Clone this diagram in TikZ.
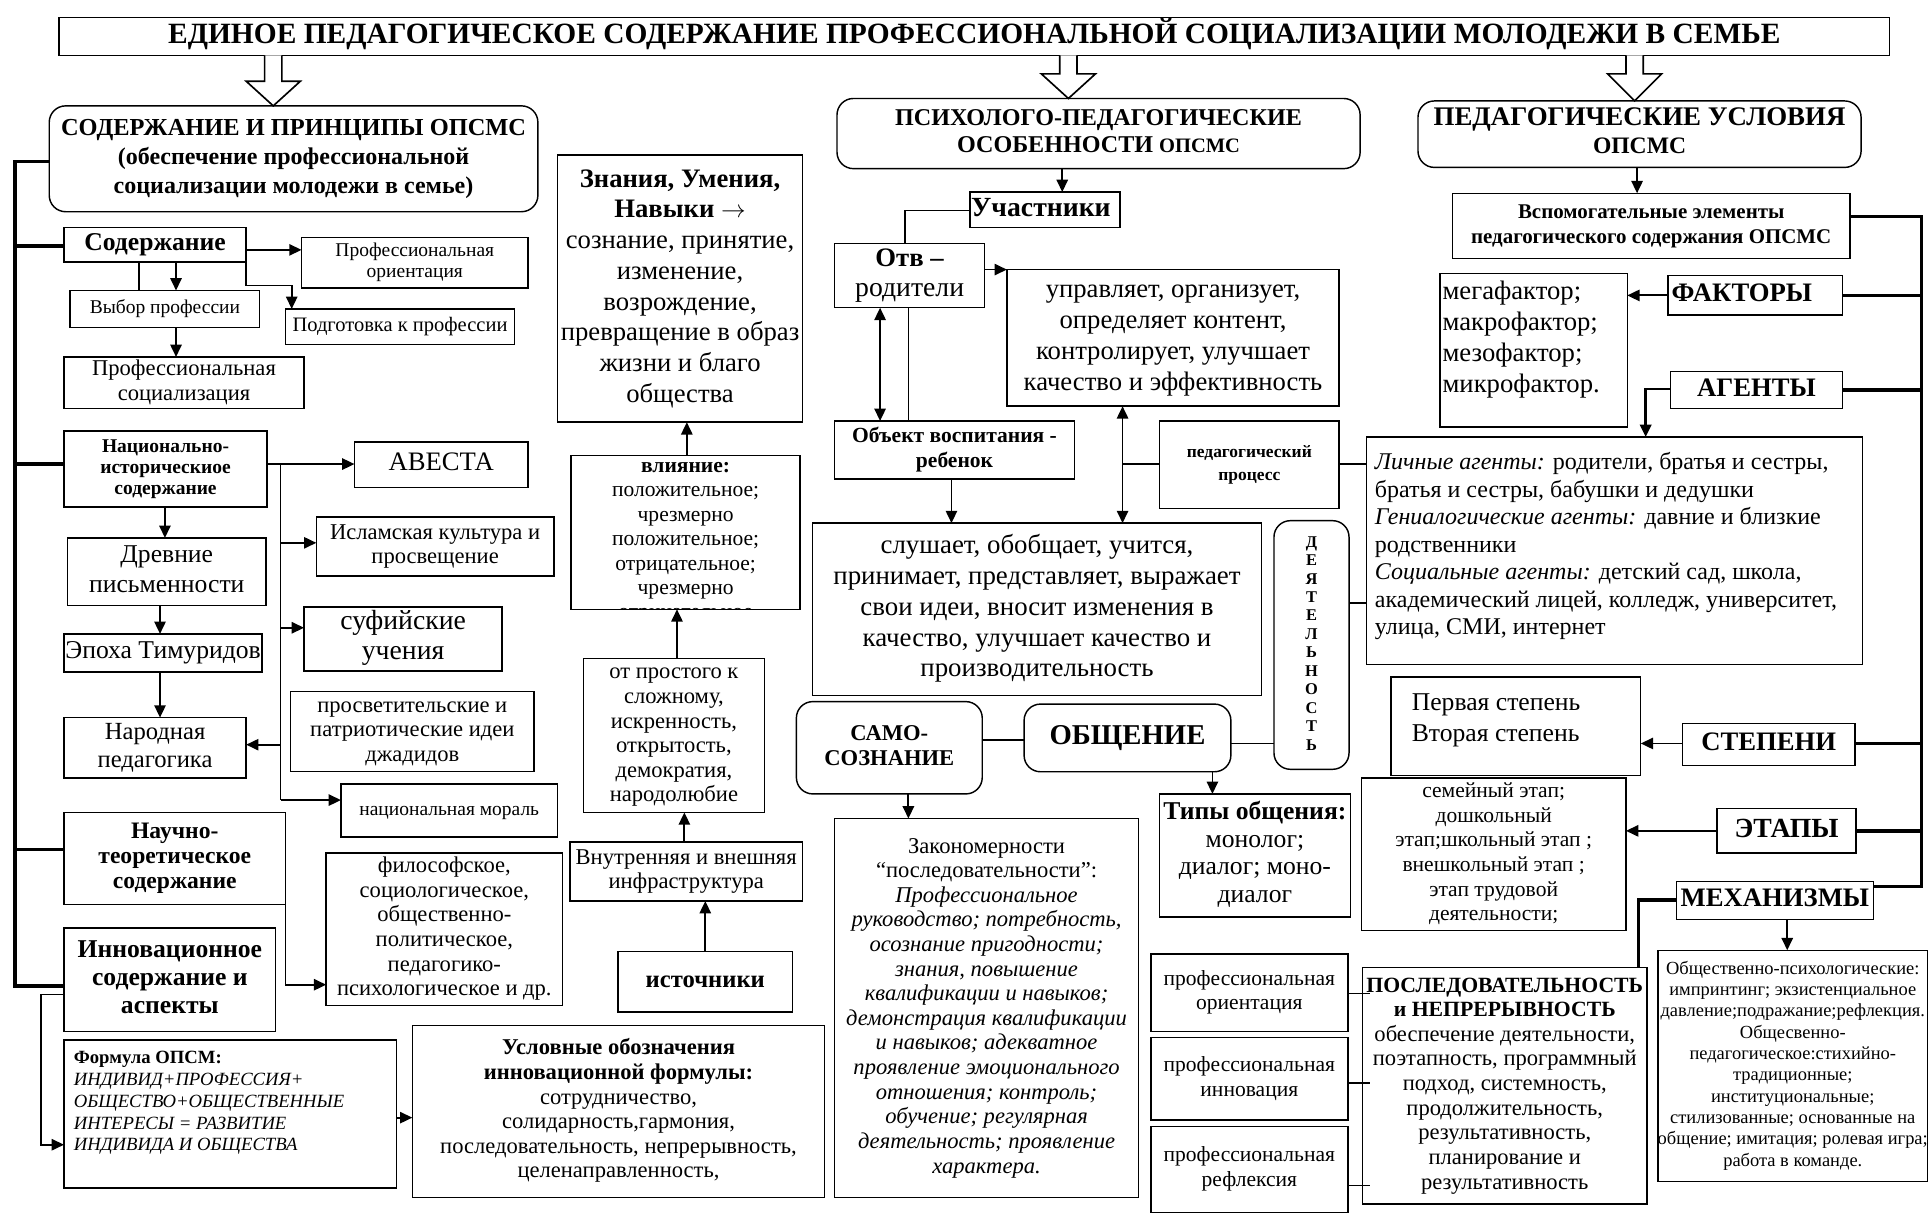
\documentclass[tikz,border=0pt]{standalone}
\usepackage{fontspec}
\setmainfont{Liberation Serif}
\usetikzlibrary{arrows.meta}

\newcommand\fs[2]{\fontsize{#1}{#2}\selectfont}
% box from its corners: [vpos]{style}{name}{x1}{y1}{x2}{y2}{font}{lines}
\newcommand\bx[9][c]{%
  \pgfmathsetmacro\bw{(#6-#4)*0.6}%
  \pgfmathsetmacro\bh{(#7-#5)*0.6}%
  \node[box,#2] (#3) at (#4,#5)
    {\begin{minipage}[b][\bh pt][#1]{\bw pt}#8%
     \makebox[\linewidth]{\begin{tabular}{@{}c@{}}#9\end{tabular}}\end{minipage}};}
% left aligned box: [top pad]{name}{x1}{y1}{x2}{y2}{left pad}{font}{lines}
\newcommand\lbx[9][0]{%
  \pgfmathsetmacro\bw{(#5-#3)*0.6}%
  \pgfmathsetmacro\bh{(#6-#4)*0.6}%
  \pgfmathsetmacro\tp{#1*0.6}%
  \pgfmathsetmacro\lp{#7*0.6}%
  \node[box] (#2) at (#3,#4)
    {\begin{minipage}[b][\bh pt][t]{\bw pt}#8\vspace*{\tp pt}%
     \hspace*{\lp pt}\begin{tabular}[t]{@{}l@{}}#9\end{tabular}\end{minipage}};}

\begin{document}
\begin{tikzpicture}[x=0.6pt,y=-0.6pt,
    box/.style={draw, line width=0.7pt, inner sep=0pt, outer sep=0pt, anchor=north west},
    rnd/.style={rounded corners=8pt},
    ln/.style={line width=0.8pt},
    arr/.style={line width=0.9pt, -{Triangle[length=6pt,width=5.5pt]}},
    darr/.style={line width=0.9pt, {Triangle[length=6pt,width=5.5pt]}-{Triangle[length=6pt,width=5.5pt]}},
    bus/.style={line width=1.7pt},
    hollow/.style={line width=0.8pt, fill=white}]
\fill[white] (0,0) rectangle (1568,986);
\useasboundingbox (0,0) rectangle (1568,986);

% Headers
\bx{}{title}{48}{14}{1535}{45}{\fs{14.35}{16}\bfseries}{ЕДИНОЕ ПЕДАГОГИЧЕСКОЕ СОДЕРЖАНИЕ ПРОФЕССИОНАЛЬНОЙ СОЦИАЛИЗАЦИИ МОЛОДЕЖИ В СЕМЬЕ}
\bx{rnd}{hdrL}{40}{86}{437}{172}{\fs{11.7}{14}\bfseries}{{\fs{11.9}{14}СОДЕРЖАНИЕ И ПРИНЦИПЫ ОПСМС}\\(обеспечение профессиональной\\социализации молодежи в семье)}
\bx{rnd}{hdrM}{680}{80}{1105}{137}{\fs{11.75}{13.2}\bfseries}{ПСИХОЛОГО-ПЕДАГОГИЧЕСКИЕ\\ОСОБЕННОСТИ {\fs{10}{12}ОПСМС}}
\bx{rnd}{hdrR}{1152}{82}{1512}{136}{\fs{13.1}{13.8}\bfseries}{ПЕДАГОГИЧЕСКИЕ УСЛОВИЯ\\{\fs{11.5}{13}ОПСМС}}
\foreach \cx/\sy/\ty in {222/66/86, 868/60/80, 1328/60/82}
  \draw[hollow] ({\cx-7},45) -- ({\cx-7},\sy) -- ({\cx-22},\sy) -- (\cx,\ty)
    -- ({\cx+22},\sy) -- ({\cx+7},\sy) -- ({\cx+7},45);

% Left column
\bx{}{sod}{52}{185}{200}{213}{\fs{12.5}{14}\bfseries}{Содержание}
\bx{}{prof}{245}{193}{429}{234}{\fs{9.5}{10.5}}{Профессиональная\\ориентация}
\bx{}{vybor}{57}{236}{211}{266}{\fs{9.5}{11}}{Выбор профессии}
\bx{}{podg}{232}{251}{418}{280}{\fs{10}{11}}{Подготовка к профессии}
\bx{}{profsoc}{52}{290}{247}{332}{\fs{11}{12}}{Профессиональная\\социализация}
\bx{}{nat}{52}{350}{217}{412}{\fs{9.5}{10.2}\bfseries}{Национально-\\историческиое\\содержание}
\bx{}{avesta}{288}{359}{429}{396}{\fs{13}{15}}{АВЕСТА}
\bx{}{drev}{55}{437}{216}{492}{\fs{12.5}{14.4}}{Древние\\письменности}
\bx{}{islam}{257}{420}{450}{468}{\fs{11}{12}}{Исламская культура и\\просвещение}
\bx{}{epoha}{52}{515}{213}{546}{\fs{12.5}{14}}{Эпоха Тимуридов}
\bx{}{sufi}{247}{493}{408}{545}{\fs{13.5}{14.4}}{суфийские\\учения}
\bx{}{jadid}{236}{562}{434}{627}{\fs{11}{12}}{просветительские и\\патриотические идеи\\джадидов}
\bx{}{narod}{52}{583}{200}{632}{\fs{12}{13.8}}{Народная\\педагогика}
\bx{}{moral}{277}{637}{453}{680}{\fs{9.5}{11}}{национальная мораль}
\bx{}{nauch}{52}{660}{232}{735}{\fs{11.5}{12}\bfseries}{Научно-\\теоретическое\\содержание}
\bx{}{filos}{265}{693}{457}{817}{\fs{11}{12}}{философское,\\социологическое,\\общественно-\\политическое,\\педагогико-\\психологическое и др.}
\bx{}{innov}{52}{754}{224}{838}{\fs{12.5}{13.8}\bfseries}{Инновационное\\содержание и\\аспекты}
\lbx[7]{formula}{52}{845}{322}{965}{8}{\fs{9.1}{10.6}}{\textbf{Формула ОПСМ:}\\\textit{ИНДИВИД+ПРОФЕССИЯ+}\\\textit{ОБЩЕСТВО+ОБЩЕСТВЕННЫЕ}\\\textit{ИНТЕРЕСЫ = РАЗВИТИЕ}\\\textit{ИНДИВИДА И ОБЩЕСТВА}}
\bx{}{uslov}{335}{833}{670}{973}{\fs{11}{12}}{\textbf{Условные обозначения}\\\textbf{инновационной формулы:}\\сотрудничество,\\солидарность,гармония,\\последовательность, непрерывность,\\целенаправленность,}

% Middle column
\bx{}{znan}{453}{126}{652}{343}{\fs{13}{15}}{\textbf{Знания, Умения,}\\\textbf{Навыки $\rightarrow$}\\сознание, принятие,\\изменение,\\возрождение,\\превращение в образ\\жизни и благо\\общества}
\begin{scope}
  \clip (464,370) rectangle (650,495);
  \bx[t]{draw=none}{vliytxt}{464}{370}{650}{495}{\fs{10.5}{11.9}}{\textbf{влияние:}\\положительное;\\чрезмерно\\положительное;\\отрицательное;\\чрезмерно\\отрицательное}
\end{scope}
\bx{}{vliy}{464}{370}{650}{495}{}{}
\bx{}{prost}{474}{535}{621}{660}{\fs{11}{12}}{от простого к\\сложному,\\искренность,\\открытость,\\демократия,\\народолюбие}
\bx{}{infra}{463}{684}{652}{732}{\fs{11}{12}}{Внутренняя и внешняя\\инфраструктура}
\bx{}{istoch}{502}{773}{644}{822}{\fs{12}{14}\bfseries}{источники}

% Center
\bx{}{uch}{788}{156}{910}{185}{\fs{13.5}{15}\bfseries}{Участники\hspace*{4pt}}
\bx{}{otv}{678}{198}{800}{250}{\fs{13}{14.4}}{\textbf{Отв –}\\{\fs{13.5}{14.4}родители}}
\bx{}{upr}{818}{219}{1088}{330}{\fs{13}{15}}{управляет, организует,\\определяет контент,\\контролирует, улучшает\\качество и эффективность}
\bx{}{obj}{678}{342}{873}{389}{\fs{10.5}{12.6}\bfseries}{Объект воспитания -\\ребенок}
\bx{}{pedpr}{942}{342}{1088}{413}{\fs{8.5}{11}\bfseries}{педагогический\\процесс}
\bx{}{slush}{660}{425}{1025}{565}{\fs{13.1}{15}}{слушает, обобщает, учится,\\принимает, представляет, выражает\\свои идеи, вносит изменения в\\качество, улучшает качество и\\производительность}
\bx{rnd}{deyat}{1035}{423}{1096}{625}{\fs{8}{9}\bfseries}{Д\\Е\\Я\\Т\\Е\\Л\\Ь\\Н\\О\\С\\Т\\Ь}
\bx{rnd}{samo}{647}{570}{798}{645}{\fs{11}{12.6}\bfseries}{САМО-\\СОЗНАНИЕ}
\bx{rnd}{obsh}{832}{572}{1000}{627}{\fs{14}{16}\bfseries}{ОБЩЕНИЕ}
\bx{}{tipy}{942}{645}{1097}{745}{\fs{12.5}{13.4}}{\textbf{Типы общения:}\\монолог;\\диалог; моно-\\диалог}
\bx{}{zakon}{678}{665}{925}{973}{\fs{11}{12}}{Закономерности\\“последовательности”:\\\textit{Профессиональное}\\\textit{руководство; потребность,}\\\textit{осознание пригодности;}\\\textit{знания, повышение}\\\textit{квалификации и навыков;}\\\textit{демонстрация квалификации}\\\textit{и навыков; адекватное}\\\textit{проявление эмоционального}\\\textit{отношения; контроль;}\\\textit{обучение; регулярная}\\\textit{деятельность; проявление}\\\textit{характера.}}
\bx{}{po2}{935}{775}{1095}{838}{\fs{10.5}{12}}{профессиональная\\ориентация}
\bx{}{pi2}{935}{843}{1095}{910}{\fs{10.5}{12}}{профессиональная\\инновация}
\bx{}{pr2}{935}{915}{1095}{985}{\fs{10.5}{12}}{профессиональная\\рефлексия}
\bx{}{posl}{1107}{786}{1338}{978}{\fs{11}{12}}{\textbf{\fs{10.6}{12}ПОСЛЕДОВАТЕЛЬНОСТЬ}\\\textbf{\fs{10.6}{12}и НЕПРЕРЫВНОСТЬ}\\обеспечение деятельности,\\поэтапность, программный\\подход, системность,\\продолжительность,\\результативность,\\планирование и\\результативность}

% Right column
\bx{}{vspom}{1180}{157}{1503}{210}{\fs{10.2}{12}\bfseries}{Вспомогательные элементы\\педагогического содержания ОПСМС}
\bx{}{fakt}{1355}{224}{1497}{256}{\fs{13}{15}\bfseries}{ФАКТОРЫ\hspace*{13pt}}
\lbx[4]{mega}{1170}{222}{1322}{347}{2}{\fs{13}{15}}{мегафактор;\\макрофактор;\\мезофактор;\\микрофактор.}
\bx{}{agent}{1357}{302}{1497}{332}{\fs{13}{15}\bfseries}{АГЕНТЫ}
\lbx[11]{lich}{1110}{355}{1513}{540}{7}{\fs{11.7}{13.4}}{\textit{Личные агенты:} родители, братья и сестры,\\братья и сестры, бабушки и дедушки\\\textit{Гениалогические агенты:} давние и близкие\\родственники\\\textit{Социальные агенты:} детский сад, школа,\\академический лицей, колледж, университет,\\улица, СМИ, интернет}
\lbx[10]{step}{1130}{550}{1333}{630}{17}{\fs{12.5}{15}}{Первая степень\\Вторая степень}
\bx{}{stepeni}{1367}{588}{1507}{622}{\fs{13}{15}\bfseries}{СТЕПЕНИ}
\bx{}{etapb}{1106}{632}{1321}{756}{\fs{10.5}{12}}{семейный этап;\\дошкольный\\этап;школьный этап ;\\внешкольный этап ;\\этап трудовой\\деятельности;}
\bx{}{etapy}{1395}{657}{1508}{693}{\fs{13.5}{15}\bfseries}{ЭТАПЫ}
\bx{}{mehan}{1362}{716}{1522}{747}{\fs{13}{15}\bfseries}{МЕХАНИЗМЫ}
\bx{}{mechb}{1347}{772}{1566}{960}{\fs{9}{10.4}}{Общественно-психологические:\\импринтинг; экзистенциальное\\давление;подражание;рефлекция.\\Общесвенно-\\педагогическое:стихийно-\\традиционные;\\институциональные;\\стилизованные; основанные на\\общение; имитация; ролевая игра;\\работа в команде.}

% Arrows: left column
\coordinate (lbus) at (12,131);
\draw[bus] (hdrL.west |- lbus) -- (lbus) -- (12,801) -- (innov.west |- 0,801);
\foreach \y/\n in {200/sod, 377/nat, 690/nauch}
  \draw[bus] (lbus |- 0,\y) -- (\n.west |- 0,\y);
\draw[arr] (sod.east |- 0,203) -- (prof.west |- 0,203);
\draw[ln] (sod.south -| 113,0) -- (vybor.north -| 113,0);
\draw[arr] (sod.south -| 143,0) -- (vybor.north -| 143,0);
\draw[arr] (sod.south east) -- (200,232) -| (podg.north -| 237,0);
\draw[arr] (vybor.south -| 143,0) -- (profsoc.north -| 143,0);
\draw[arr] (nat.east |- 0,377) -- (avesta.west |- 0,377);
\coordinate (nbus) at (228,377);
\draw[ln] (nbus) -- (228,650);
\draw[arr] (nbus |- 0,441) -- (islam.west |- 0,441);
\draw[arr] (nbus |- 0,510) -- (sufi.west |- 0,510);
\draw[arr] (nbus |- 0,605) -- (narod.east |- 0,605);
\draw[arr] (nbus |- 0,650) -- (moral.west |- 0,650);
\draw[arr] (nat.south -| 134,0) -- (drev.north -| 134,0);
\draw[arr] (drev.south -| 130,0) -- (epoha.north -| 130,0);
\draw[arr] (epoha.south -| 130,0) -- (narod.north -| 130,0);
\draw[arr] (nauch.south east) |- (filos.west |- 0,800);
\draw[arr] (innov.west |- 0,808) -- (33,808) |- (formula.west |- 0,930);
\draw[arr] (formula.east |- 0,908) -- (uslov.west |- 0,908);

% Arrows: middle column
\draw[arr] (vliy.north -| 558,0) -- (znan.south -| 558,0);
\draw[arr] (prost.north -| 550,0) -- (vliy.south -| 550,0);
\draw[arr] (infra.north -| 556,0) -- (prost.south -| 556,0);
\draw[arr] (istoch.north -| 573,0) -- (infra.south -| 573,0);

% Arrows: center
\draw[arr] (hdrM.south -| 863,0) -- (uch.north -| 863,0);
\draw[ln] (uch.west |- 0,171) -- (735,171) -- (otv.north -| 735,0);
\draw[arr] (otv.east |- 0,219) -- (upr.west |- 0,219);
\draw[darr] (otv.south -| 715,0) -- (obj.north -| 715,0);
\draw[ln] (otv.south -| 738,0) -- (obj.north -| 738,0);
\draw[arr] (obj.south -| 773,0) -- (slush.north -| 773,0);
\draw[darr] (upr.south -| 912,0) -- (slush.north -| 912,0);
\draw[ln] (pedpr.west |- 0,377) -- (912,377);
\draw[ln] (pedpr.east |- 0,377) -- (lich.west |- 0,377);
\draw[ln] (deyat.east |- 0,490) -- (lich.west |- 0,490);
\draw[ln] (samo.east |- 0,601) -- (obsh.west |- 0,601);
\draw[ln] (obsh.east |- 0,604) -- (deyat.west |- 0,604);
\draw[arr] (obsh.south -| 985,0) -- (tipy.north -| 985,0);
\draw[arr] (samo.south -| 738,0) -- (zakon.north -| 738,0);
\foreach \y/\n in {807/po2, 880/pi2, 963/pr2}
  \draw[ln] (\n.east |- 0,\y) -- (posl.west |- 0,\y) -- ++(6,0);

% Arrows: right column
\draw[arr] (hdrR.south -| 1330,0) -- (vspom.north -| 1330,0);
\coordinate (rbus) at (1561,176);
\draw[bus] (vspom.east |- rbus) -- (rbus) -- (1561,720) -- (mehan.east |- 0,720);
\foreach \y/\n in {240/fakt, 317/agent, 604/stepeni, 675/etapy}
  \draw[bus] (rbus |- 0,\y) -- (\n.east |- 0,\y);
\draw[arr] (fakt.west |- 0,240) -- (mega.east |- 0,240);
\draw[arr, line width=1.3pt] (agent.west |- 0,316) -- (1337,316) -- (lich.north -| 1337,0);
\draw[arr] (stepeni.west |- 0,604) -- (step.east |- 0,604);
\draw[arr] (etapy.west |- 0,675) -- (etapb.east |- 0,675);
\draw[bus] (mehan.west |- 0,731) -- (1331,731) -- (posl.north -| 1331,0);
\draw[arr] (mehan.south -| 1452,0) -- (mechb.north -| 1452,0);
\end{tikzpicture}
\end{document}
